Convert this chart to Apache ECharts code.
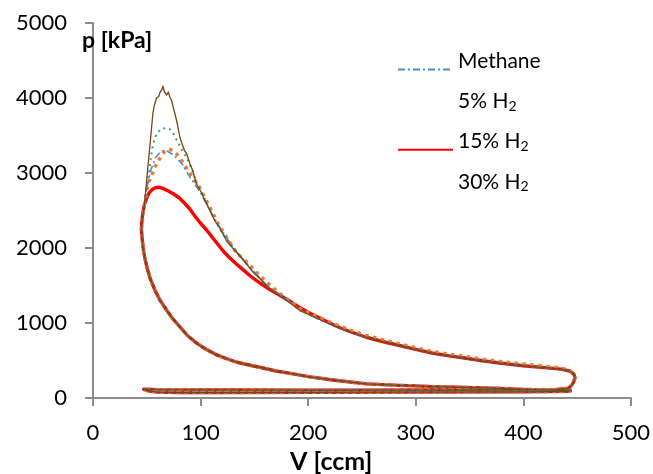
<!DOCTYPE html>
<html>
<head>
<meta charset="utf-8">
<script src="https://cdn.jsdelivr.net/npm/echarts@6/dist/echarts.min.js"></script>
<style>html,body{margin:0;padding:0;background:#fff}#c{width:653px;height:474px}</style>
</head>
<body>
<div id="c"></div>
<script>
// ---- data (V [ccm], p [kPa]) ----
const xTicks = [0, 100, 200, 300, 400, 500];
const yTicks = [0, 1000, 2000, 3000, 4000, 5000];
const legendNames = ['Methane', '5% H2', '15% H2', '30% H2'];

// compression stroke (V decreasing, shared by all runs)
const compression = [[445,100],[420,108],[400,115],[378,128],[347,140],[315,152],[300,162],[285,168],[254,188],[223,240],[200,285],[189,315],[170,360],[158,400],[145,440],[133,480],[124,525],[115,575],[105,650],[96,735],[88,830],[80.7,950],[74,1060],[68.5,1170],[62,1310],[57.5,1440],[53,1600],[50,1750],[48,1880],[46.5,2010],[45.5,2150],[45,2250]];

// late expansion + blowdown + exhaust + intake (shared)
const expansionTail = [[192,1170],[207,1070],[223,970],[238,885],[254,810],[270,750],[285,700],[300,648],[315,600],[331,562],[347,530],[362,496],[378,466],[400,430],[420,405],[435,385],[443,360],[447,320],[448,270],[447,220],[445,170],[442,130],[430,112],[400,109],[350,107],[300,106],[250,105],[200,105],[150,106],[100,108],[60,112],[47,118],[50,100],[60,78],[80,72],[120,73],[200,75],[300,78],[400,82],[440,88],[445,100]];
const expansionTailOrange = [[192,1195],[207,1095],[223,995],[238,910],[254,835],[270,775],[285,722],[300,670],[315,622],[331,585],[347,552],[362,518],[378,488],[400,452],[420,425],[435,402],[443,368],[447,320],[448,270],[447,220],[445,170],[442,130],[430,112],[400,109],[350,107],[300,106],[250,105],[200,105],[150,106],[100,108],[60,112],[47,118],[50,100],[60,78],[80,72],[120,73],[200,75],[300,78],[400,82],[440,88],[445,100]];

// combustion / early expansion of each run
const methaneHot = [[45,2250],[47,2500],[50,2800],[54,3050],[58,3200],[63,3290],[68,3300],[74,3250],[83,3120],[90,2945],[99,2760],[108,2520],[116,2320],[124,2140],[134,1940],[143,1790],[161,1510],[176,1350],[186,1250]];
const h2_5Hot = [[45,2250],[46.5,2400],[48,2600],[50,2800],[52,3000],[54.7,3300],[57,3450],[60,3540],[64,3590],[68.6,3600],[71,3590],[74,3540],[79,3410],[83,3300],[87,3210],[92,3050],[96,2880],[104,2650],[113,2380],[124,2110],[143,1790],[161,1500],[183,1280]];
const h2_15Hot = [[45,2250],[45.3,2330],[46,2430],[47,2520],[48,2590],[50,2670],[52,2730],[55,2780],[58,2805],[61,2810],[65,2795],[70,2760],[75,2720],[80,2670],[85,2600],[90,2520],[95,2420],[100,2330],[105.6,2240],[111,2140],[116,2050],[121,1960],[127,1870],[133,1790],[140,1705],[146,1630],[152,1565],[158,1505],[164,1450],[170,1400],[176,1350],[183,1290],[190,1225],[198,1160],[205,1105],[213,1050],[220,1000],[229,940],[238,890],[246,850],[254,810]];
const h2_30Hot = [[45,2250],[47,2500],[50,2770],[52,2880],[54.7,2970],[57.5,3080],[61,3170],[66,3280],[70.5,3320],[74,3300],[77,3265],[81.6,3185],[85.3,3100],[90,3000],[99,2810],[108.5,2545],[116,2330],[124,2145],[133.6,1930],[141,1840],[151,1690],[161,1550],[173,1400],[186,1260]];
const experimentHot = [[45,2250],[46,2400],[48,2600],[51,3080],[53.5,3450],[55.7,3800],[57,3900],[59,4000],[61,4020],[62.5,4080],[64,4110],[65,4157],[66.5,4080],[67.5,4100],[68.6,4040],[70,4080],[71.5,4010],[73,3970],[74.5,3880],[76,3800],[77.5,3780],[78.5,3650],[80.7,3480],[82.5,3400],[85,3300],[87,3260],[90,3130],[93,3020],[96,2860],[100,2760],[104,2640],[108,2520],[113,2370],[118,2260],[124,2100],[128,2030],[133,1950],[138,1870],[143,1780],[150,1660],[156,1580],[161,1500],[168,1420],[175,1350],[183,1270]];

const runs = [
  {name: 'Methane', pts: compression.concat(methaneHot, expansionTail), color: '#4a90d0', width: 1.6, type: [7,3,2,3], z: 4},
  {name: '5% H2', pts: compression.concat(h2_5Hot, expansionTail), color: '#3aa56e', width: 2, type: [2,4], z: 3},
  {name: '15% H2', pts: compression.concat(h2_15Hot, expansionTail.slice(5)), color: '#ff0000', width: 3.4, type: 'solid', z: 1},
  {name: '30% H2', pts: compression.concat(h2_30Hot, expansionTailOrange), color: '#ed7d31', width: 3.5, type: [3.5,4.5], z: 2},
  {name: 'Experiment', pts: compression.concat(experimentHot, expansionTail), color: '#7a4512', width: 1.3, type: 'solid', z: 5}
];

const FONT = 'Lato';
const chart = echarts.init(document.getElementById('c'), null, {renderer: 'canvas'});
const axisCol = '#8c8c8c';

chart.setOption({
  animation: false,
  backgroundColor: '#ffffff',
  grid: {left: 93, right: 21, top: 23, bottom: 76, containLabel: false},
  xAxis: {
    type: 'value', min: xTicks[0], max: xTicks[xTicks.length - 1], interval: xTicks[1] - xTicks[0],
    axisLine: {show: true, onZero: false, lineStyle: {color: axisCol, width: 2}},
    axisTick: {show: true, inside: false, length: 8, lineStyle: {color: axisCol, width: 2}},
    axisLabel: {margin: 24, fontSize: 22, fontFamily: FONT, color: '#000', formatter: v => String(v)},
    splitLine: {show: false}
  },
  yAxis: {
    type: 'value', min: yTicks[0], max: yTicks[yTicks.length - 1], interval: yTicks[1] - yTicks[0],
    axisLine: {show: true, lineStyle: {color: axisCol, width: 2}},
    axisTick: {show: true, inside: false, length: 8, lineStyle: {color: axisCol, width: 2}},
    axisLabel: {margin: 26, fontSize: 22, fontFamily: FONT, color: '#000', formatter: v => String(v)},
    splitLine: {show: false}
  },
  legend: {
    show: true,
    orient: 'vertical', left: 397, top: 51, padding: 0, itemWidth: 55, itemHeight: 14, itemGap: 16,
    selectedMode: false,
    itemStyle: {opacity: 0},
    data: legendNames.map(n => {
      const hide = (n === '5% H2' || n === '30% H2');
      return hide ? {name: n, itemStyle: {opacity: 0}, lineStyle: {opacity: 0}} : {name: n, itemStyle: {opacity: 0}};
    }),
    formatter: n => n.replace('H2', 'H{sub|2}'),
    textStyle: {
      fontSize: 21, fontFamily: FONT, color: '#000', padding: [0, 0, 16, 0],
      rich: {sub: {fontSize: 14, fontFamily: FONT, color: '#000', padding: [10, 0, 0, 0]}}
    }
  },
  graphic: [
    {type: 'text', left: 82, top: 29, z: 100, style: {text: 'p [kPa]', font: 'bold 23px Lato', fill: '#000'}},
    {type: 'text', left: 290, top: 449, z: 100, style: {text: 'V [ccm]', font: 'bold 25px Lato', fill: '#000'}}
  ],
  series: runs.map(r => ({
    name: r.name, type: 'line', data: r.pts, showSymbol: false, symbol: 'none',
    smooth: false, z: r.z, clip: false,
    lineStyle: {color: r.color, width: r.width, type: r.type, cap: 'butt', join: 'round'},
    itemStyle: {color: r.color}
  }))
});
</script>
</body>
</html>
